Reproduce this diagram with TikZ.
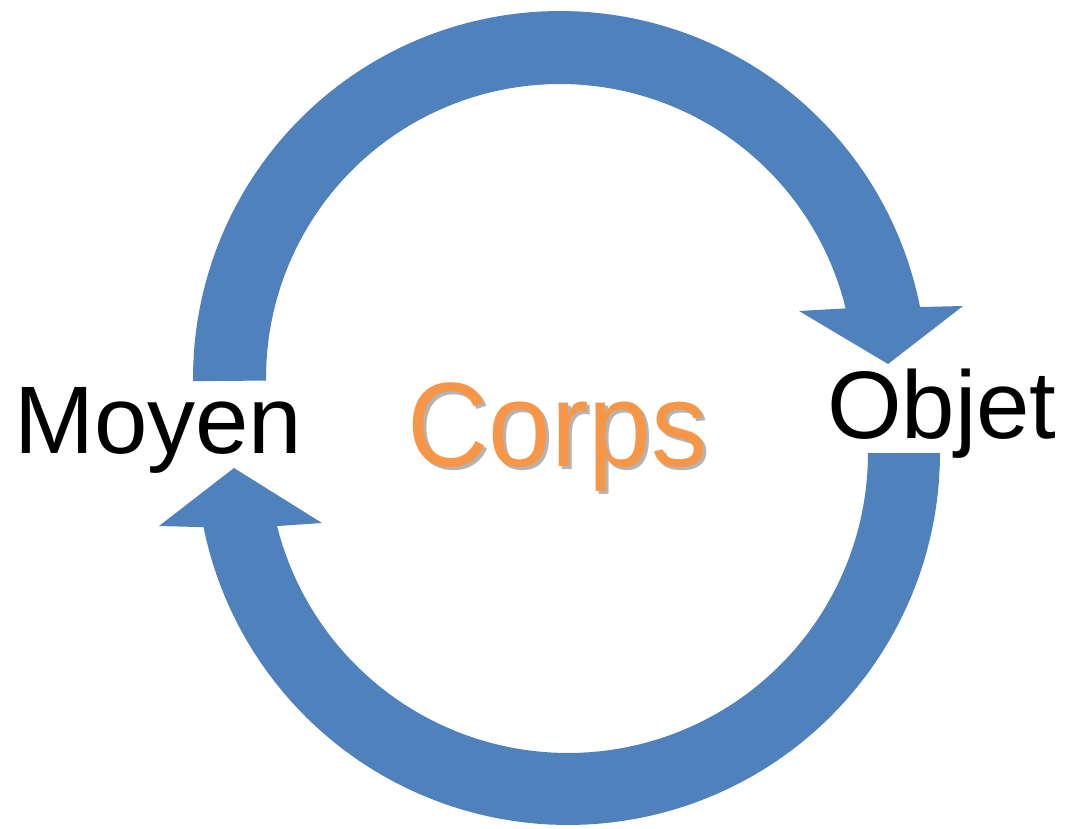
\documentclass[tikz,border=0pt]{standalone}
\usepackage{fontspec}
\setmainfont{Liberation Sans}
\definecolor{arrowblue}{HTML}{4F81BD}
\definecolor{corpsorange}{HTML}{F79646}
\definecolor{shadowgray}{HTML}{B4B4B4}
\begin{document}
\begin{tikzpicture}[x=1pt,y=-1pt,
  band/.style={fill=arrowblue, draw=none},
  lbl/.style={anchor=base west, inner sep=0pt, font=\fontsize{96}{110}\selectfont},
  biglbl/.style={anchor=base west, inner sep=0pt, font=\fontsize{120}{140}\selectfont}]
\useasboundingbox (0,0) rectangle (1076,829);
% upper arc, arrow pointing to Objet
\fill[band] plot[domain=179.5:348.85, samples=90] ({560+367*cos(\x)},{378+367*sin(\x)})
  -- (963,306) -- (888,364) -- (799,311)
  -- plot[domain=346.3:179.5, samples=90] ({560+294*cos(\x)},{378+294*sin(\x)}) -- cycle;
% lower arc, arrow pointing to Moyen
\fill[band] plot[domain=0:168.5, samples=90] ({568+372*cos(\x)},{453+372*sin(\x)})
  -- (159,526) -- (234,468) -- (322,523)
  -- plot[domain=165.9:0, samples=90] ({568+300*cos(\x)},{453+300*sin(\x)}) -- cycle;
% labels
\node[lbl] (moyen) at (14,453) {Moyen};
\node[lbl] (objet) at (827,438) {Objet};
\node[biglbl] (corps) at (407,466) {\scalebox{0.94}[1]{\makebox[0pt][l]{\hspace{3pt}\raisebox{-3pt}{\color{shadowgray}Corps}}\textcolor{corpsorange}{Corps}}};
\end{tikzpicture}
\end{document}
